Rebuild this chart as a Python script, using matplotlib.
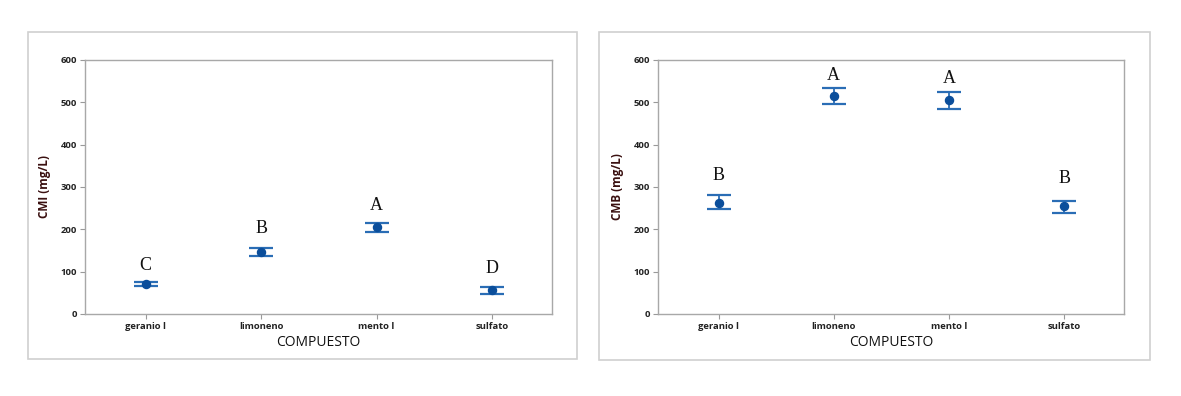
import numpy as np
import matplotlib.pyplot as plt
from matplotlib.patches import Rectangle

compuestos = ["geraniol", "limoneno", "mentol", "sulfato"]
tick_labels = ["geranio l", "limoneno", "mento l", "sulfato"]

# CMI panel
cmi_media = [71, 147, 206, 56]
cmi_sup = [75, 157, 216, 63]
cmi_inf = [65, 138, 194, 47]
cmi_letras = ["C", "B", "A", "D"]
cmi_letra_y = [114, 202, 256, 108]

# CMB panel
cmb_media = [263, 516, 506, 254]
cmb_sup = [282, 535, 524, 266]
cmb_inf = [247, 497, 484, 239]
cmb_letras = ["B", "A", "A", "B"]
cmb_letra_y = [327, 563, 557, 321]

bar_color = "#2a6db5"
pt_color = "#0b4e9b"


def panel(fig, rect, media, sup, inf, letras, letra_y, ylabel):
    ax = fig.add_axes(rect)
    x = np.arange(len(compuestos))
    media = np.array(media)
    yerr = [media - np.array(inf), np.array(sup) - media]
    ax.errorbar(x, media, yerr=yerr, fmt="o", color=pt_color, ecolor=bar_color,
                elinewidth=1.3, capsize=8.6, capthick=1.6, markersize=5.8, zorder=3)
    for xi, l, ly in zip(x, letras, letra_y):
        ax.text(xi, ly, l, ha="center", va="center", fontsize=13,
                family="Liberation Serif", color="#111111")
    ax.set_xlim(-0.525, 3.52)
    ax.set_ylim(0, 600)
    ax.set_yticks(np.arange(0, 601, 100))
    ax.set_xticks(x)
    ax.set_xticklabels(tick_labels, fontsize=6.8, fontweight="bold",
                       family="Open Sans", color="#222222")
    for lab in ax.get_yticklabels():
        lab.set_fontsize(6.8)
        lab.set_fontweight("bold")
        lab.set_family("Open Sans")
        lab.set_color("#222222")
    ax.tick_params(axis="both", length=3.5, width=0.8, color="#999999", pad=2)
    ax.set_xlabel("COMPUESTO", fontsize=10, family="Open Sans",
                  color="#111111", labelpad=3)
    ax.set_ylabel(ylabel, fontsize=8.5, fontweight="bold", family="Open Sans",
                  color="#3a1010", labelpad=7)
    for s in ax.spines.values():
        s.set_color("#a8a8a8")
        s.set_linewidth(1.0)
    return ax


fig = plt.figure(figsize=(11.81, 3.96), dpi=100)

fig.patches.append(Rectangle((0.0237, 0.0934), 0.4649, 0.8258, transform=fig.transFigure,
                             fill=False, edgecolor="#d0d0d0", linewidth=1.2))
fig.patches.append(Rectangle((0.5072, 0.0909), 0.4666, 0.8283, transform=fig.transFigure,
                             fill=False, edgecolor="#d0d0d0", linewidth=1.2))

panel(fig, [0.0720, 0.2071, 0.3954, 0.6414], cmi_media, cmi_sup, cmi_inf,
      cmi_letras, cmi_letra_y, "CMI (mg/L)")
panel(fig, [0.5572, 0.2071, 0.3946, 0.6414], cmb_media, cmb_sup, cmb_inf,
      cmb_letras, cmb_letra_y, "CMB (mg/L)")

fig.savefig("out.png", dpi=100)
